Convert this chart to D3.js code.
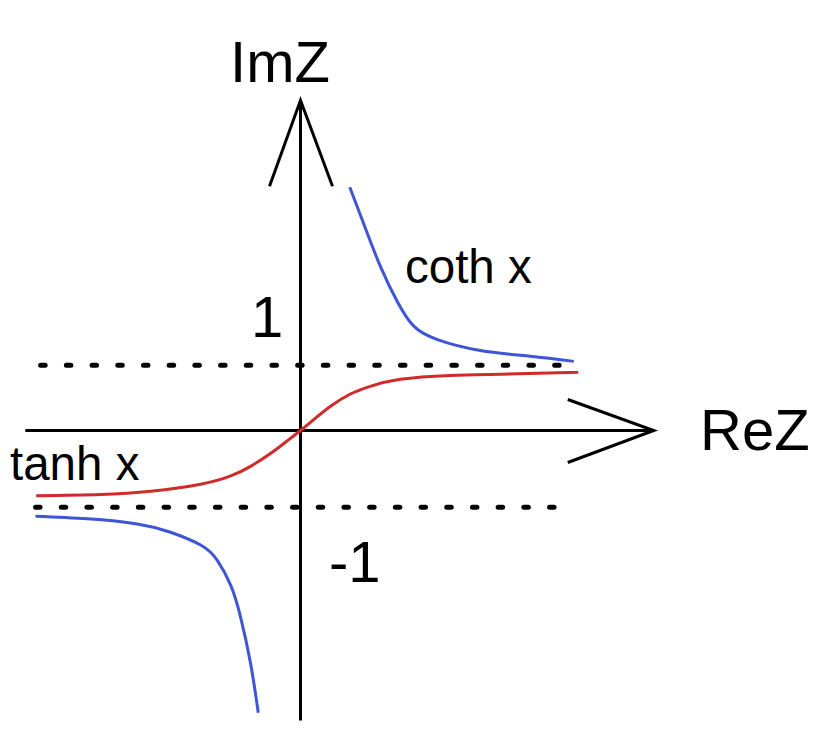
<!DOCTYPE html>
<html>
<head>
<meta charset="utf-8">
<script src="https://cdn.jsdelivr.net/npm/d3@7"></script>
<style>
  html, body { margin: 0; padding: 0; background: #fff; }
  svg { display: block; }
  text { font-family: "Liberation Sans", Arial, sans-serif; fill: #000; }
</style>
</head>
<body>
<svg id="chart" width="820" height="743"></svg>
<script>
// ---- data (in chart units: 1 unit along each axis) ----
const tanhX = [-4.13, -3.13, -2.34, -1.56, -1.09, -0.78, -0.47, -0.23, 0, 0.23, 0.47, 0.78, 1.09, 1.56, 2.34, 3.13, 4.34];
const tanhY = [-1.02, -1.00, -0.95, -0.84, -0.71, -0.56, -0.36, -0.18, 0, 0.19, 0.38, 0.57, 0.69, 0.80, 0.86, 0.88, 0.91];

const cothUpperX = [0.77, 0.98, 1.25, 1.52, 1.77, 2.14, 2.81, 3.59, 4.27];
const cothUpperY = [3.80, 3.25, 2.56, 2.00, 1.63, 1.42, 1.25, 1.16, 1.08];

const cothLowerX = [-4.14, -3.33, -2.55, -2.03, -1.56, -1.30, -1.09, -0.94, -0.78, -0.66];
const cothLowerY = [-1.34, -1.38, -1.46, -1.59, -1.79, -2.03, -2.42, -2.90, -3.64, -4.41];

const asymptoteLevels = [1.02, -1.20];
const asymptoteStartX = [-4.06, -4.14];
const asymptoteEndX = [4.06, 3.98];

const axisXRange = [-4.30, 5.52];
const axisYRange = [-4.53, 5.16];

const axisLabels = ["ReZ", "ImZ"];
const tickLabels = ["1", "-1"];
const curveLabels = ["coth x", "tanh x"];

// ---- scales ----
const x = d3.scaleLinear().domain([0, 1]).range([300.5, 364.5]);
const y = d3.scaleLinear().domain([0, 1]).range([430.5, 366.5]);

const svg = d3.select("#chart");
const line = d3.line().x(d => x(d[0])).y(d => y(d[1])).curve(d3.curveNatural);

// asymptote dotted lines
asymptoteLevels.forEach((lv, i) => {
  svg.append("line")
    .attr("x1", x(asymptoteStartX[i])).attr("x2", x(asymptoteEndX[i]))
    .attr("y1", y(lv)).attr("y2", y(lv))
    .attr("stroke", "#000").attr("stroke-width", 5)
    .attr("stroke-linecap", "round")
    .attr("stroke-dasharray", "4.5 21.2");
});

// axes
svg.append("line")
  .attr("x1", x(axisXRange[0])).attr("x2", x(axisXRange[1]))
  .attr("y1", y(0)).attr("y2", y(0))
  .attr("stroke", "#000").attr("stroke-width", 3);
svg.append("line")
  .attr("x1", x(0)).attr("x2", x(0))
  .attr("y1", y(axisYRange[0])).attr("y2", y(axisYRange[1]))
  .attr("stroke", "#000").attr("stroke-width", 3);

// arrowheads (open chevrons)
const hx = x(axisXRange[1]), hy = y(0);
svg.append("path")
  .attr("d", `M${hx - 86},${hy - 31} L${hx},${hy} L${hx - 86},${hy + 32}`)
  .attr("fill", "none").attr("stroke", "#000").attr("stroke-width", 3);
const vx = x(0), vy = y(axisYRange[1]);
svg.append("path")
  .attr("d", `M${vx - 31},${vy + 86} L${vx},${vy} L${vx + 32},${vy + 86}`)
  .attr("fill", "none").attr("stroke", "#000").attr("stroke-width", 3);

// curves
svg.append("path")
  .datum(d3.zip(cothUpperX, cothUpperY))
  .attr("d", line).attr("fill", "none")
  .attr("stroke", "#3d55d6").attr("stroke-width", 3);
svg.append("path")
  .datum(d3.zip(cothLowerX, cothLowerY))
  .attr("d", line).attr("fill", "none")
  .attr("stroke", "#3d55d6").attr("stroke-width", 3);
svg.append("path")
  .datum(d3.zip(tanhX, tanhY))
  .attr("d", line).attr("fill", "none")
  .attr("stroke", "#d02a2a").attr("stroke-width", 3);

// labels
svg.append("text").attr("x", 700).attr("y", 450).attr("font-size", 58).text(axisLabels[0]);
svg.append("text").attr("x", 280).attr("y", 82).attr("text-anchor", "middle").attr("font-size", 58).text(axisLabels[1]);
svg.append("text").attr("x", 251).attr("y", 337).attr("font-size", 58).text(tickLabels[0]);
svg.append("text").attr("x", 329).attr("y", 582).attr("font-size", 58).text(tickLabels[1]);
svg.append("text").attr("x", 405).attr("y", 283).attr("font-size", 47.5).text(curveLabels[0]);
svg.append("text").attr("x", 10).attr("y", 480).attr("font-size", 47.5).text(curveLabels[1]);
</script>
</body>
</html>
